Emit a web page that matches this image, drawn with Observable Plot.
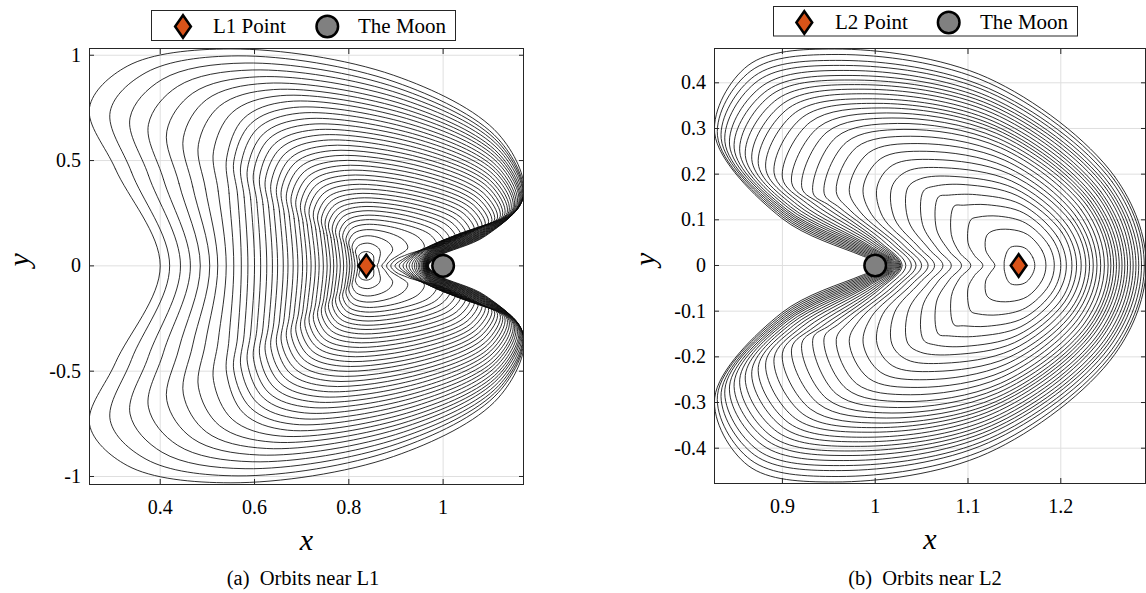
<!DOCTYPE html>
<html><head><meta charset="utf-8">
<script src="https://cdn.jsdelivr.net/npm/d3@7"></script>
<script src="https://cdn.jsdelivr.net/npm/@observablehq/plot@0.6"></script>
<style>
body{margin:0;background:#fff;}
#wrap{position:relative;width:1146px;height:593px;overflow:hidden;background:#fff;}
.panel{position:absolute;top:0;}
</style></head><body><div id="wrap"></div>
<script>
// ---------------- Panel (a): orbits near L1 (upper half landmarks, mirrored about y=0) ----------------
const a_xL  = [0.400,0.420,0.443,0.464,0.485,0.505,0.522,0.540,0.556,0.572,0.586,0.600,0.613,0.626,0.638,0.649,0.661,0.671,0.682,0.692,0.702,0.711,0.720,0.729,0.737,0.746,0.754,0.761,0.768,0.775,0.782,0.789,0.796,0.802,0.807,0.813,0.819,0.825];
const a_xLm = [0.305,0.339,0.375,0.407,0.440,0.469,0.496,0.523,0.546,0.564,0.578,0.592,0.605,0.618,0.630,0.641,0.653,0.663,0.674,0.684,0.694,0.703,0.712,0.721,0.730,0.739,0.747,0.754,0.762,0.769,0.776,0.784,0.791,0.797,0.803,0.809,0.816,0.8225];
const a_yLm = [0.460,0.445,0.430,0.410,0.390,0.375,0.365,0.355,0.345,0.338,0.326,0.314,0.302,0.291,0.279,0.268,0.257,0.246,0.235,0.225,0.214,0.204,0.194,0.184,0.174,0.164,0.154,0.145,0.135,0.126,0.117,0.108,0.099,0.089,0.077,0.064,0.049,0.031];
const a_xW  = [0.250,0.294,0.336,0.375,0.414,0.449,0.481,0.513,0.541,0.556,0.571,0.585,0.598,0.611,0.623,0.635,0.647,0.657,0.668,0.678,0.688,0.698,0.707,0.716,0.725,0.734,0.742,0.750,0.757,0.765,0.772,0.780,0.787,0.794,0.800,0.807,0.814,0.821];
const a_yW  = [0.752,0.734,0.703,0.671,0.639,0.608,0.576,0.544,0.513,0.496,0.479,0.461,0.444,0.426,0.410,0.393,0.377,0.361,0.345,0.329,0.314,0.299,0.284,0.269,0.255,0.240,0.226,0.213,0.199,0.185,0.172,0.158,0.145,0.130,0.114,0.094,0.071,0.045];
const a_xS  = [0.330,0.370,0.404,0.437,0.469,0.498,0.526,0.553,0.577,0.592,0.606,0.619,0.631,0.643,0.655,0.666,0.677,0.687,0.697,0.706,0.715,0.724,0.732,0.740,0.748,0.756,0.763,0.770,0.776,0.782,0.788,0.795,0.800,0.806,0.811,0.816,0.821,0.826];
const a_yS  = [0.948,0.918,0.885,0.852,0.820,0.789,0.759,0.729,0.700,0.675,0.651,0.627,0.604,0.580,0.558,0.535,0.513,0.491,0.470,0.448,0.427,0.407,0.386,0.366,0.347,0.327,0.308,0.289,0.270,0.252,0.234,0.215,0.197,0.177,0.155,0.128,0.097,0.061];
const a_xT  = [0.550,0.565,0.580,0.595,0.610,0.625,0.640,0.655,0.670,0.683,0.695,0.706,0.717,0.727,0.737,0.746,0.755,0.763,0.771,0.778,0.785,0.791,0.797,0.802,0.807,0.812,0.816,0.820,0.824,0.827,0.830,0.833,0.835,0.837,0.838,0.839,0.839,0.838];
const a_yT  = [1.030,0.997,0.963,0.930,0.898,0.867,0.837,0.808,0.780,0.752,0.725,0.698,0.672,0.646,0.621,0.596,0.571,0.547,0.523,0.499,0.476,0.453,0.430,0.408,0.386,0.364,0.343,0.322,0.301,0.281,0.261,0.240,0.219,0.197,0.172,0.143,0.108,0.068];
const a_xU1 = [0.895,0.898,0.904,0.910,0.916,0.921,0.927,0.933,0.938,0.942,0.946,0.949,0.952,0.954,0.956,0.958,0.959,0.960,0.960,0.960,0.960,0.959,0.958,0.956,0.954,0.952,0.949,0.945,0.942,0.937,0.932,0.926,0.918,0.905,0.886,0.869,0.854,0.846];
const a_yU1 = [0.905,0.873,0.844,0.816,0.789,0.763,0.738,0.713,0.689,0.665,0.642,0.619,0.597,0.575,0.553,0.531,0.510,0.489,0.468,0.447,0.427,0.407,0.386,0.367,0.347,0.328,0.309,0.290,0.271,0.253,0.234,0.215,0.196,0.177,0.156,0.130,0.099,0.062];
const a_xU2 = [1.117,1.117,1.118,1.118,1.118,1.117,1.117,1.116,1.115,1.113,1.111,1.110,1.107,1.104,1.101,1.098,1.094,1.090,1.085,1.080,1.075,1.069,1.064,1.058,1.051,1.044,1.036,1.028,1.019,1.010,0.999,0.987,0.973,0.949,0.917,0.888,0.865,0.852];
const a_yU2 = [0.627,0.602,0.584,0.568,0.551,0.535,0.520,0.506,0.491,0.476,0.462,0.447,0.433,0.418,0.404,0.390,0.376,0.362,0.347,0.333,0.319,0.305,0.290,0.276,0.262,0.248,0.233,0.219,0.204,0.190,0.175,0.161,0.147,0.133,0.121,0.103,0.079,0.049];
const a_xE  = [1.171,1.170,1.169,1.168,1.166,1.164,1.162,1.160,1.157,1.154,1.151,1.148,1.144,1.140,1.136,1.131,1.126,1.121,1.115,1.109,1.103,1.096,1.089,1.082,1.074,1.066,1.057,1.048,1.038,1.027,1.015,1.002,0.986,0.960,0.925,0.893,0.867,0.853];
const a_yE  = [0.335,0.327,0.321,0.316,0.310,0.305,0.300,0.296,0.290,0.284,0.279,0.273,0.267,0.260,0.254,0.247,0.240,0.233,0.225,0.218,0.210,0.202,0.193,0.185,0.176,0.167,0.157,0.147,0.137,0.127,0.116,0.106,0.097,0.088,0.085,0.075,0.058,0.035];
const a_xB1 = [1.090,1.090,1.090,1.090,1.090,1.090,1.090,1.090,1.090,1.090,1.090,1.090,1.090,1.090,1.090,1.090,1.086,1.081,1.075,1.069,1.063,1.056,1.049,1.042,1.034,1.026,1.017,1.008,0.998,0.987,0.975,0.962,0.947,0.925,0.905,0.884,0.865,0.853];
const a_yB1 = [0.142,0.145,0.148,0.151,0.154,0.157,0.160,0.163,0.166,0.169,0.172,0.175,0.178,0.181,0.184,0.187,0.188,0.186,0.182,0.178,0.174,0.169,0.164,0.159,0.152,0.145,0.137,0.129,0.120,0.109,0.097,0.084,0.070,0.055,0.050,0.045,0.036,0.022];
const a_xB2 = [0.990,0.989,0.988,0.987,0.986,0.985,0.984,0.983,0.982,0.981,0.980,0.979,0.978,0.977,0.976,0.975,0.974,0.973,0.972,0.971,0.970,0.969,0.967,0.965,0.962,0.959,0.955,0.951,0.946,0.940,0.934,0.926,0.917,0.900,0.889,0.877,0.863,0.852];
const a_yB2 = [0.045,0.046,0.047,0.048,0.049,0.050,0.051,0.052,0.053,0.054,0.055,0.056,0.057,0.058,0.059,0.060,0.061,0.062,0.063,0.064,0.065,0.066,0.066,0.065,0.064,0.063,0.061,0.058,0.055,0.050,0.045,0.040,0.035,0.030,0.027,0.022,0.016,0.010];
const a_xR  = [0.969,0.968,0.968,0.968,0.967,0.967,0.967,0.966,0.966,0.965,0.965,0.964,0.964,0.963,0.963,0.962,0.961,0.960,0.959,0.958,0.957,0.955,0.953,0.950,0.947,0.943,0.939,0.934,0.928,0.922,0.915,0.907,0.898,0.889,0.880,0.870,0.860,0.851];

// ---------------- Panel (b): orbits near L2 ----------------
const b_xR = [1.292,1.290,1.287,1.284,1.281,1.278,1.275,1.272,1.269,1.266,1.263,1.260,1.257,1.254,1.251,1.247,1.243,1.239,1.235,1.231,1.227,1.222,1.217,1.212,1.206,1.200,1.193,1.184,1.172];
const b_xA = [1.258,1.257,1.255,1.252,1.250,1.248,1.246,1.243,1.241,1.239,1.236,1.234,1.232,1.230,1.228,1.225,1.222,1.219,1.216,1.213,1.211,1.207,1.204,1.201,1.196,1.192,1.187,1.180,1.170];
const b_yA = [0.195,0.189,0.184,0.180,0.175,0.171,0.166,0.162,0.158,0.154,0.150,0.146,0.141,0.137,0.132,0.128,0.122,0.116,0.109,0.103,0.095,0.088,0.080,0.073,0.064,0.055,0.044,0.032,0.017];
const b_xB = [1.121,1.122,1.122,1.123,1.123,1.124,1.125,1.125,1.126,1.126,1.127,1.128,1.130,1.131,1.132,1.133,1.135,1.136,1.139,1.141,1.144,1.147,1.150,1.153,1.157,1.160,1.162,1.164,1.163];
const b_yB = [0.411,0.400,0.388,0.379,0.369,0.360,0.351,0.343,0.334,0.325,0.316,0.307,0.298,0.289,0.279,0.269,0.258,0.245,0.231,0.216,0.201,0.185,0.169,0.153,0.134,0.115,0.093,0.068,0.036];
const b_xT = [0.956,0.960,0.964,0.968,0.972,0.976,0.980,0.984,0.988,0.992,0.997,1.002,1.007,1.012,1.018,1.024,1.031,1.038,1.046,1.055,1.064,1.074,1.085,1.097,1.109,1.121,1.133,1.145,1.155];
const b_yT = [0.474,0.462,0.449,0.438,0.427,0.416,0.406,0.396,0.386,0.376,0.365,0.355,0.345,0.334,0.323,0.311,0.298,0.283,0.267,0.250,0.232,0.214,0.195,0.177,0.155,0.133,0.108,0.079,0.042];
const b_xS = [0.863,0.866,0.870,0.874,0.879,0.884,0.889,0.895,0.901,0.907,0.914,0.922,0.930,0.939,0.948,0.958,0.969,0.980,0.993,1.006,1.019,1.034,1.049,1.065,1.079,1.095,1.111,1.127,1.146];
const b_yS = [0.438,0.426,0.415,0.405,0.394,0.384,0.375,0.365,0.355,0.345,0.335,0.325,0.314,0.303,0.292,0.281,0.270,0.259,0.247,0.234,0.220,0.206,0.190,0.174,0.154,0.132,0.106,0.076,0.040];
const b_xW = [0.827,0.830,0.834,0.838,0.843,0.848,0.854,0.860,0.867,0.874,0.882,0.891,0.900,0.910,0.921,0.933,0.945,0.958,0.972,0.987,1.002,1.018,1.035,1.052,1.068,1.085,1.103,1.120,1.142];
const b_yW = [0.290,0.284,0.278,0.271,0.264,0.257,0.249,0.241,0.232,0.223,0.213,0.203,0.192,0.181,0.170,0.159,0.158,0.162,0.166,0.170,0.172,0.172,0.170,0.163,0.150,0.130,0.100,0.065,0.030];
const b_xC = [0.899,0.900,0.901,0.902,0.903,0.904,0.905,0.907,0.909,0.912,0.916,0.921,0.927,0.934,0.942,0.951,0.962,0.973,0.984,0.996,1.008,1.021,1.036,1.051,1.066,1.082,1.100,1.119,1.140];
const b_yC = [0.104,0.107,0.110,0.113,0.116,0.119,0.122,0.125,0.128,0.131,0.133,0.134,0.135,0.135,0.134,0.131,0.126,0.121,0.117,0.112,0.107,0.102,0.097,0.090,0.080,0.068,0.050,0.034,0.018];
const b_xD = [0.985,0.986,0.987,0.988,0.989,0.990,0.991,0.992,0.993,0.994,0.995,0.997,0.999,1.001,1.003,1.006,1.012,1.019,1.025,1.032,1.040,1.048,1.058,1.068,1.080,1.091,1.107,1.124,1.139];
const b_yD = [0.022,0.024,0.026,0.028,0.030,0.032,0.034,0.036,0.038,0.040,0.042,0.044,0.046,0.048,0.050,0.050,0.048,0.046,0.044,0.042,0.040,0.038,0.036,0.034,0.031,0.028,0.022,0.016,0.008];
const b_xN = [1.0135,1.0145,1.0155,1.0165,1.0175,1.0185,1.0195,1.0205,1.0215,1.0225,1.0235,1.0245,1.0255,1.0265,1.0275,1.029,1.033,1.039,1.044,1.050,1.057,1.064,1.073,1.082,1.093,1.103,1.116,1.129,1.139];

// special points
const pointL1 = [0.837, 0];
const pointL2 = [1.1546, 0];
const moonA = [1.0, 0];
const moonB = [1.0, 0];

// ticks
const xTicksA = [0.4, 0.6, 0.8, 1];
const yTicksA = [-1, -0.5, 0, 0.5, 1];
const xTicksB = [0.9, 1, 1.1, 1.2];
const yTicksB = [-0.4, -0.3, -0.2, -0.1, 0, 0.1, 0.2, 0.3, 0.4];

// texts
const legendA = ["L1 Point", "The Moon"];
const legendB = ["L2 Point", "The Moon"];
const captionA = "(a)\u00a0 Orbits near L1";
const captionB = "(b)\u00a0 Orbits near L2";

// ---------------- build closed orbit loops (upper half + mirrored lower half) ----------------
function closeLoop(up, k, out) {
  const loop = up.concat(up.slice(1, -1).reverse().map(([x, y]) => [x, -y]));
  for (const [x, y] of loop) out.push({k, x, y});
}
const orbitsA = [];
for (let k = 0; k < a_xL.length; k++) {
  closeLoop([[a_xL[k],0],[a_xLm[k],a_yLm[k]],[a_xW[k],a_yW[k]],[a_xS[k],a_yS[k]],[a_xT[k],a_yT[k]],
             [a_xU1[k],a_yU1[k]],[a_xU2[k],a_yU2[k]],[a_xE[k],a_yE[k]],[a_xB1[k],a_yB1[k]],[a_xB2[k],a_yB2[k]],[a_xR[k],0]], k, orbitsA);
}
const orbitsB = [];
for (let k = 0; k < b_xR.length; k++) {
  closeLoop([[b_xR[k],0],[b_xA[k],b_yA[k]],[b_xB[k],b_yB[k]],[b_xT[k],b_yT[k]],[b_xS[k],b_yS[k]],
             [b_xW[k],b_yW[k]],[b_xC[k],b_yC[k]],[b_xD[k],b_yD[k]],[b_xN[k],0]], k, orbitsB);
}

const FONT = "'Liberation Serif','Times New Roman',Times,'DejaVu Serif',serif";
const ORANGE = "#D95319";
const diamondSym = {draw(ctx, size) {
  const r = Math.sqrt(size / Math.PI);
  ctx.moveTo(0, -r); ctx.lineTo(0.7 * r, 0); ctx.lineTo(0, r); ctx.lineTo(-0.7 * r, 0); ctx.closePath();
}};

function makePanel(o) {
  return Plot.plot({
    width: o.width, height: 593,
    marginLeft: o.ml, marginRight: o.mr, marginTop: 48, marginBottom: o.mb,
    x: {domain: o.xDom}, y: {domain: o.yDom},
    style: {fontFamily: FONT, fontSize: "20px", color: "#000", background: "transparent"},
    marks: [
      Plot.gridX(o.xTicks, {stroke: "#dfdfdf", strokeOpacity: 1}),
      Plot.gridY(o.yTicks, {stroke: "#dfdfdf", strokeOpacity: 1}),
      Plot.line(o.orbits, {x: "x", y: "y", z: "k", curve: "catmull-rom-closed", stroke: "#0a0a0a", strokeWidth: 0.85, clip: true}),
      Plot.frame({stroke: "#262626"}),
      Plot.axisX(o.xTicks, {anchor: "bottom", tickSize: -5, fill: "none", label: null, stroke: "#262626"}),
      Plot.axisX(o.xTicks, {anchor: "top", tickSize: -5, fill: "none", label: null, stroke: "#262626"}),
      Plot.axisY(o.yTicks, {anchor: "left", tickSize: -5, fill: "none", label: null, stroke: "#262626"}),
      Plot.axisY(o.yTicks, {anchor: "right", tickSize: -5, fill: "none", label: null, stroke: "#262626"}),
      Plot.axisX(o.xTicks, {anchor: "bottom", tickSize: 0, tickPadding: 15, tickFormat: d => String(d), label: null, fontSize: 20, fontFamily: FONT, fill: "#000"}),
      Plot.axisY(o.yTicks, {anchor: "left", tickSize: 0, tickPadding: 8.5, tickFormat: d => String(d), label: null, fontSize: 20, fontFamily: FONT, fill: "#000"}),
      Plot.text(["x"], {text: d => d, frameAnchor: "bottom", dy: 56, fontStyle: "italic", fontFamily: FONT, fontSize: 30, lineAnchor: "middle", fill: "#000"}),
      Plot.text(["y"], {text: d => d, frameAnchor: "left", dx: o.yLabDx, rotate: -90, fontStyle: "italic", fontFamily: FONT, fontSize: 30, lineAnchor: "middle", fill: "#000"}),
      Plot.dot([o.moon], {x: d => d[0], y: d => d[1], r: 10.8, fill: "#808080", stroke: "#000", strokeWidth: 2.5}),
      Plot.dot([o.lpoint], {x: d => d[0], y: d => d[1], r: 11.3, symbol: diamondSym, fill: ORANGE, stroke: "#000", strokeWidth: 2.5})
    ]
  });
}

const wrap = document.getElementById("wrap");
const pa = makePanel({width: 573, ml: 89, mr: 50, mb: 109, xDom: [0.250, 1.1705], yDom: [-1.038, 1.032],
  xTicks: xTicksA, yTicks: yTicksA, orbits: orbitsA, yLabDx: -70, moon: moonA, lpoint: pointL1});
pa.classList.add("panel"); pa.style.left = "0px";
wrap.appendChild(pa);
const pb = makePanel({width: 546, ml: 114, mr: 1, mb: 110, xDom: [0.8268, 1.2913], yDom: [-0.4773, 0.4751],
  xTicks: xTicksB, yTicks: yTicksB, orbits: orbitsB, yLabDx: -69, moon: moonB, lpoint: pointL2});
pb.classList.add("panel"); pb.style.left = "600px";
wrap.appendChild(pb);

// ---------------- legends and captions ----------------
function diamondPath(cx, cy) {
  return `M${cx},${cy - 11.3}L${cx + 7.9},${cy}L${cx},${cy + 11.3}L${cx - 7.9},${cy}Z`;
}
const ov = `
<svg xmlns="http://www.w3.org/2000/svg" width="1146" height="593" style="position:absolute;left:0;top:0;pointer-events:none;font-family:${FONT}">
  <rect x="151.5" y="10.5" width="304" height="30" fill="#fff" stroke="#262626" stroke-width="1"/>
  <path d="${diamondPath(183, 26.5)}" fill="${ORANGE}" stroke="#000" stroke-width="2.5"/>
  <text x="213" y="33.3" font-size="21">${legendA[0]}</text>
  <circle cx="327.3" cy="26.5" r="10.8" fill="#808080" stroke="#000" stroke-width="2.5"/>
  <text x="358" y="33.3" font-size="21">${legendA[1]}</text>

  <rect x="773.5" y="6.5" width="304" height="29.5" fill="#fff" stroke="#262626" stroke-width="1"/>
  <path d="${diamondPath(804.3, 22.5)}" fill="${ORANGE}" stroke="#000" stroke-width="2.5"/>
  <text x="835" y="29.3" font-size="21">${legendB[0]}</text>
  <circle cx="948.7" cy="22.5" r="10.8" fill="#808080" stroke="#000" stroke-width="2.5"/>
  <text x="980" y="29.3" font-size="21">${legendB[1]}</text>

  <text x="303" y="585" font-size="20.5" text-anchor="middle">${captionA}</text>
  <text x="925" y="585" font-size="20.5" text-anchor="middle">${captionB}</text>
</svg>`;
wrap.insertAdjacentHTML("beforeend", ov);
</script></body></html>
